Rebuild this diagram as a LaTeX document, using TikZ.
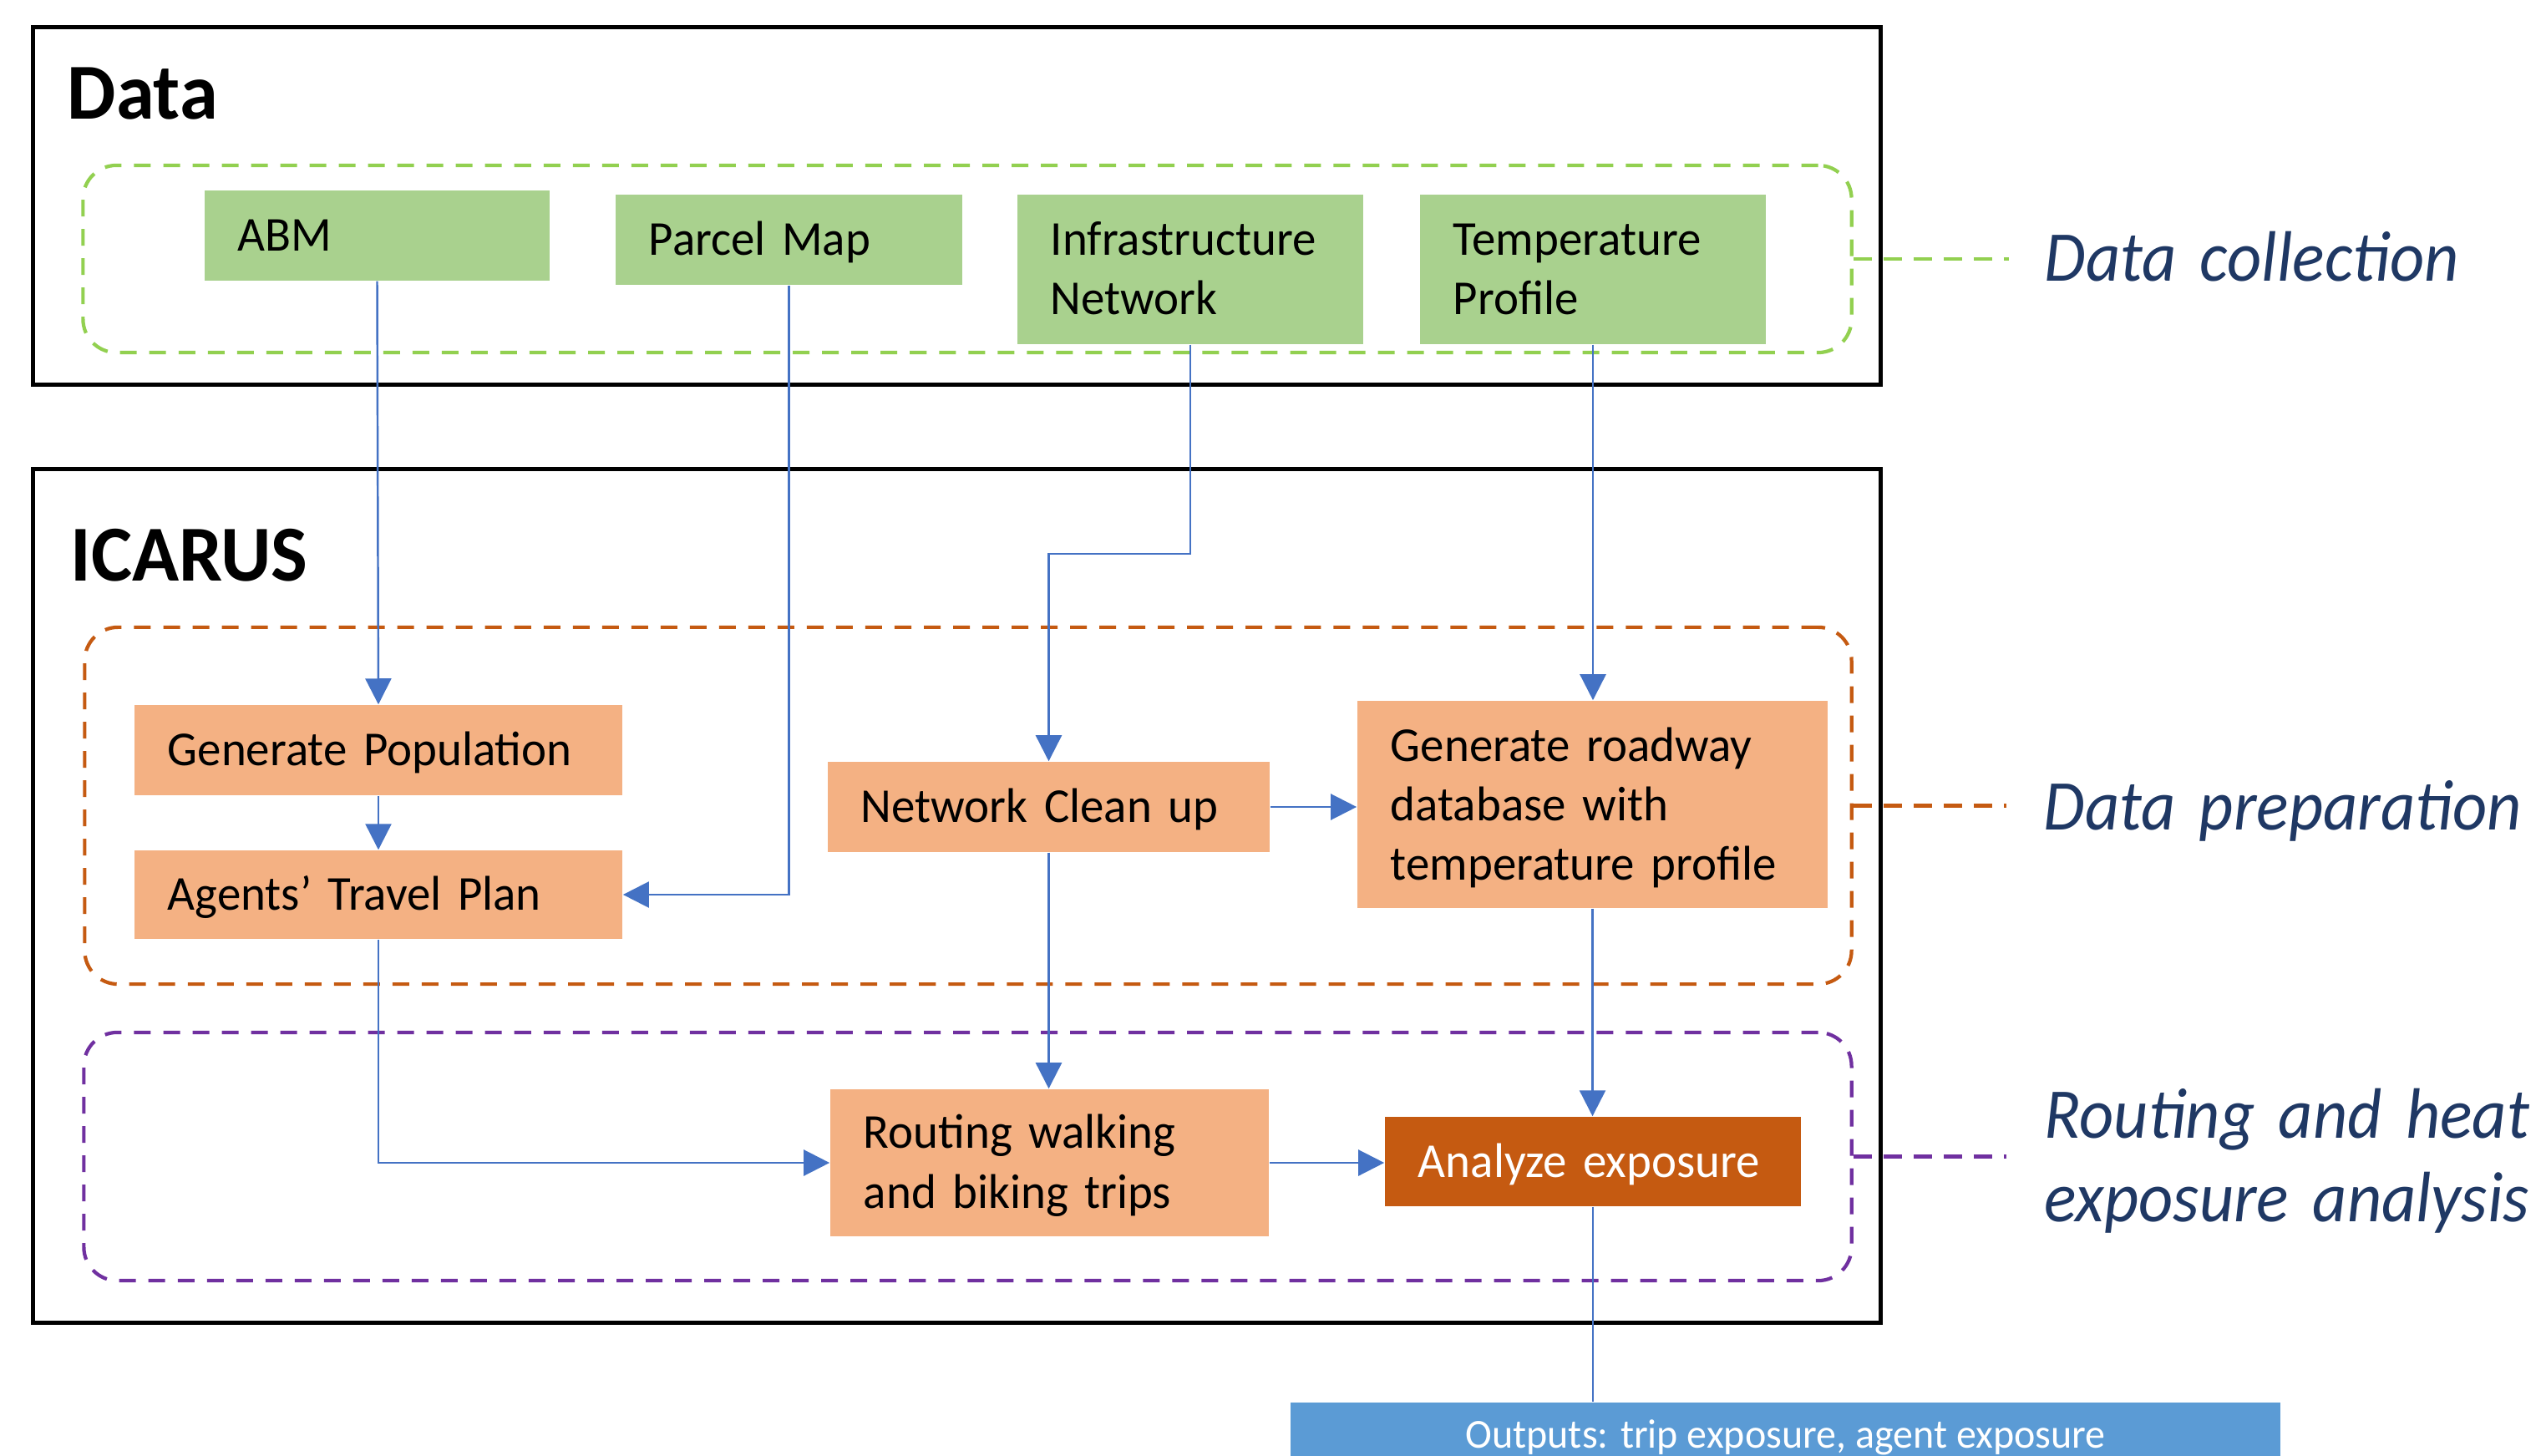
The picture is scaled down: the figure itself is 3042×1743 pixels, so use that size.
\documentclass[tikz,border=0pt]{standalone}
\usepackage{fontspec}
\setmainfont{Carlito}[FakeStretch=0.975]
\newfontfamily\sidefont{Carlito}[FakeStretch=0.94]
\usetikzlibrary{arrows.meta}
\definecolor{gfill}{HTML}{A9D18E}
\definecolor{ofill}{HTML}{F4B183}
\definecolor{dfill}{HTML}{C55A11}
\definecolor{bfill}{HTML}{5B9BD5}
\definecolor{gdash}{HTML}{92D050}
\definecolor{odash}{HTML}{C55A11}
\definecolor{pdash}{HTML}{7030A0}
\definecolor{conncol}{HTML}{4472C4}
\definecolor{navy}{HTML}{1F3864}
\hyphenpenalty=10000
\exhyphenpenalty=10000
\begin{document}
\begin{tikzpicture}[x=0.01cm,y=-0.01cm,
  box/.style={rectangle, inner xsep=0.4cm, inner ysep=0pt, align=left,
    font=\fontsize{16.6}{20.2}\selectfont, anchor=center,
    text height=0.37cm, text depth=0pt},
  gbox/.style={box, fill=gfill},
  obox/.style={box, fill=ofill},
  conn/.style={draw=conncol, line width=0.7pt, -{Triangle[length=0.31cm,width=0.31cm]}},
  plainconn/.style={draw=conncol, line width=0.7pt},
  grp/.style={rectangle, rounded corners=0.4cm, dash pattern=on 0.2cm off 0.15cm,
    line width=1.2pt, inner sep=0pt},
  lead/.style={dash pattern=on 0.22cm off 0.14cm, line width=1.2pt},
  frame/.style={rectangle, draw=black, line width=1.4pt, inner sep=0pt},
  titletext/.style={font=\fontsize{27}{32}\selectfont\bfseries, inner sep=0pt, anchor=base west},
  side/.style={font=\sidefont\fontsize{24.3}{28.7}\selectfont\itshape, text=navy, inner sep=0pt,
    anchor=base west, align=left, text width=6.2cm},
]
\useasboundingbox (0,0) rectangle (3042,1743);
\fill[white] (0,0) rectangle (3042,1743);

% frames
\node[frame, minimum width=22.11cm, minimum height=4.27cm] (fdata) at (1145.5,246.5) {};
\node[frame, minimum width=22.11cm, minimum height=10.21cm] (ficarus) at (1145.5,1072.5) {};
\node[titletext] (tdata) at (80,143) {Data};
\node[titletext] (ticarus) at (84,696) {ICARUS};

% groups
\node[grp, draw=gdash, minimum width=21.16cm, minimum height=2.24cm] (ggrp) at (1158,310) {};
\node[grp, draw=odash, minimum width=21.14cm, minimum height=4.27cm] (ogrp) at (1159,964.5) {};
\node[grp, draw=pdash, minimum width=21.15cm, minimum height=2.97cm] (pgrp) at (1158.5,1384.5) {};

% side labels
\coordinate (e1) at (2405,310);
\coordinate (e2) at (2402,966);
\coordinate (e3) at (2402,1384);
\draw[lead, draw=gdash] (ggrp.east) -- (ggrp.east -| e1);
\draw[lead, draw=odash] (ogrp.east) -- (ogrp.east -| e2);
\draw[lead, draw=pdash] (pgrp.east) -- (pgrp.east -| e3);
\node[side] (lcoll) at (2447,337) {Data collection};
\node[side] (lprep) at (2446,993) {Data preparation};
\node[side] (lrout) at (2447,1362) {Routing and heat\\exposure analysis};

% boxes
\node[gbox, text width=3.33cm, minimum height=1.08cm] (abm) at (451.5,282) {ABM};
\node[gbox, text width=3.35cm, minimum height=1.08cm] (parcel) at (944.5,287) {Parcel Map};
\node[gbox, text width=3.34cm, minimum height=1.79cm, text depth=0.71cm] (infra) at (1425,322.5) {Infrastructure\\Network};
\node[gbox, text width=3.34cm, minimum height=1.79cm, text depth=0.71cm] (temp) at (1907,322.5) {Temperature\\Profile};
\node[obox, text width=5.04cm, minimum height=1.08cm] (genpop) at (453,898) {Generate Population};
\node[obox, text width=5.04cm, minimum height=1.06cm] (agents) at (453,1071) {Agents’ Travel Plan};
\node[obox, text width=4.49cm, minimum height=1.08cm] (ncu) at (1255.5,966) {Network Clean up};
\node[obox, text width=4.83cm, minimum height=2.48cm, text depth=1.40cm] (road) at (1906.5,963) {Generate roadway\\database with\\temperature profile};
\node[obox, text width=4.45cm, minimum height=1.76cm, text depth=0.71cm] (route) at (1256.5,1392) {Routing walking\\and biking trips};
\node[box, fill=dfill, text=white, text width=4.18cm, minimum height=1.07cm] (analyze) at (1907,1390.5) {Analyze exposure};
\node[rectangle, fill=bfill, text=white, font=\fontsize{14}{17}\selectfont, minimum width=11.85cm,
  inner ysep=0pt, text height=0.55cm, text depth=0.5cm, anchor=north] (out) at (2137.5,1678)
  {Outputs: trip exposure, agent exposure};

% connectors
\coordinate (jog) at (0,663);
\draw[conn] (abm.south) -- (genpop.north);
\draw[conn] (genpop.south) -- (agents.north);
\draw[conn] (parcel.south) |- (agents.east);
\draw[conn] (infra.south) -- (infra.south |- jog) -| (ncu.north);
\draw[conn] (temp.south) -- (temp.south |- road.north);
\draw[conn] (ncu.east) -- (ncu.east -| road.west);
\draw[conn] (agents.south) |- (route.west);
\draw[conn] (ncu.south) -- (ncu.south |- route.north);
\draw[conn] (road.south) -- (road.south |- analyze.north);
\draw[conn] (route.east) -- (route.east -| analyze.west);
\draw[plainconn] (analyze.south) -- (analyze.south |- out.north);
\end{tikzpicture}
\end{document}
